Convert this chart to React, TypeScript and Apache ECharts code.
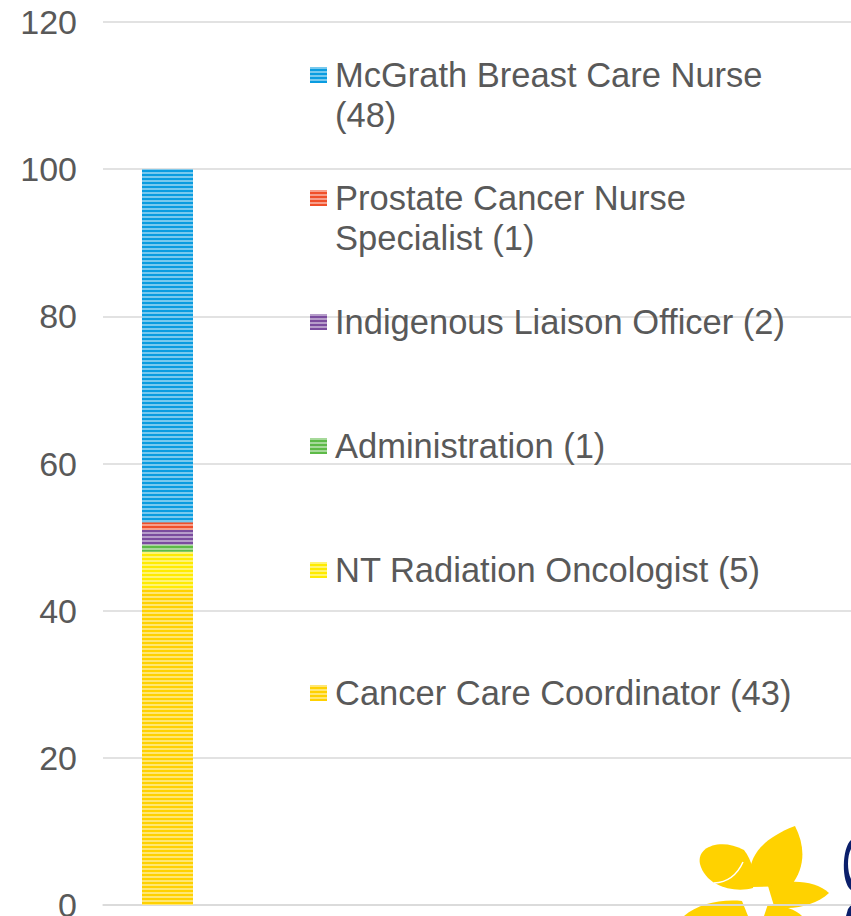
import React, { useEffect, useRef } from "react";
import * as echarts from "echarts";

const categories = ["Staff", "", " ", "  ", "   ", "    "];
const seriesNames = [
  "Cancer Care Coordinator",
  "NT Radiation Oncologist",
  "Administration",
  "Indigenous Liaison Officer",
  "Prostate Cancer Nurse Specialist",
  "McGrath Breast Care Nurse",
];
const seriesValues = [43, 5, 1, 2, 1, 48];
const legendLines = [
  ["Cancer Care Coordinator (43)"],
  ["NT Radiation Oncologist (5)"],
  ["Administration (1)"],
  ["Indigenous Liaison Officer (2)"],
  ["Prostate Cancer Nurse", "Specialist (1)"],
  ["McGrath Breast Care Nurse", "(48)"],
];
const seriesColors = ["#FFD100", "#FFEB00", "#5DBA47", "#7A4C9E", "#F04F29", "#0A9CE0"];
const legendCenters = [693, 570, 446, 322, 198, 75];

const FONT = "'Liberation Sans', Arial, sans-serif";
const LINE_H = 40;
const FONT_SIZE = 34.5;

function registerShapes() {
  const shapes: Record<string, string> = {
    petalTop: "M752 887 C744 862 758 840 795 826 C805 846 806 866 791 886 Z",
    petalLeft: "M753 888 C735 893 706 887 700 864 C696 846 722 838 744 850 C752 860 756 876 753 888 Z",
    petalRight: "M768 886 C790 879 815 880 829 893 C815 906 790 911 774 906 Z",
    petalBL: "M684 916 C698 904 720 899 742 901 L748 916 Z",
    petalBR: "M768 904 C784 905 796 910 802 916 L764 916 Z",
    navyC: "M851 840 C842 848 841 882 851 890 L851 879 C847 871 847 856 851 849 Z",
    navyB: "M848 909 L851 905 L851 916 L846 916 Z",
  };
  Object.keys(shapes).forEach((k) => {
    try {
      echarts.graphic.registerShape(k, echarts.graphic.extendPath(shapes[k], {}) as any);
    } catch (e) {}
  });
}

export default function App() {
  const ref = useRef<HTMLDivElement>(null);
  useEffect(() => {
    if (!ref.current) return;
    registerShapes();
    const chart = echarts.init(ref.current, undefined, { renderer: "svg" });
    const decalFor = () => ({
      symbol: "rect",
      symbolSize: 1,
      dashArrayX: [10, 0],
      dashArrayY: [2, 2],
      rotation: 0,
      color: "rgba(255,255,255,0.45)",
    });
    const series = seriesNames.map((name, i) => ({
      name,
      type: "bar",
      stack: "total",
      barWidth: 51,
      data: categories.map((_, ci) => (ci === 0 ? seriesValues[i] : null)),
      itemStyle: { color: seriesColors[i], decal: decalFor() },
      emphasis: { disabled: true },
    }));
    const richT = { fontSize: FONT_SIZE, color: "#595959", fontFamily: FONT, lineHeight: LINE_H };
    const legends = seriesNames.map((name, i) => {
      const lines = legendLines[i];
      const extra = (lines.length - 1) * LINE_H;
      const boxH = lines.length * LINE_H + extra;
      return {
        show: true,
        data: [name],
        left: 310,
        top: legendCenters[i] - boxH / 2,
        padding: 0,
        orient: "vertical",
        icon: "rect",
        itemWidth: 17,
        itemHeight: 16,
        selectedMode: false,
        formatter: () => lines.map((l) => `{t|${l}}`).join("\n"),
        textStyle: {
          fontSize: FONT_SIZE,
          color: "#595959",
          fontFamily: FONT,
          lineHeight: LINE_H,
          padding: [extra, 0, 0, 3],
          rich: { t: richT },
        },
      };
    });
    const yellow = "#FFD200";
    const navy = "#0B1F6B";
    chart.setOption({
      animation: false,
      backgroundColor: "#ffffff",
      grid: {
        left: 103,
        top: 22,
        bottom: 11,
        width: 774,
        containLabel: false,
        outerBoundsMode: "none",
      },
      xAxis: {
        type: "category",
        data: categories,
        axisLine: { show: true, lineStyle: { color: "#D9D9D9", width: 1.5 } },
        axisTick: { show: false },
        axisLabel: { show: false },
      },
      yAxis: {
        type: "value",
        min: 0,
        max: 120,
        interval: 20,
        axisLine: { show: false },
        axisTick: { show: false },
        axisLabel: { fontSize: 34, color: "#595959", fontFamily: FONT, margin: 26 },
        splitLine: { lineStyle: { color: "#D9D9D9", width: 1.5 } },
      },
      legend: legends,
      series,
      graphic: [
        {
          type: "group",
          z: -5,
          silent: true,
          children: [
            { type: "petalTop", z: -5, style: { fill: yellow } },
            { type: "petalLeft", z: -5, style: { fill: yellow } },
            { type: "petalRight", z: -5, style: { fill: yellow } },
            { type: "petalBL", z: -5, style: { fill: yellow } },
            { type: "petalBR", z: -5, style: { fill: yellow } },
            {
              type: "bezierCurve",
              z: -4,
              shape: { x1: 714, y1: 883, x2: 743, y2: 862, cpx1: 734, cpy1: 882 },
              style: { stroke: "#ffffff", lineWidth: 1.5, fill: null },
            },
            {
              type: "polyline",
              z: -4,
              shape: { points: [[757, 908], [764, 902], [772, 905]] },
              style: { stroke: "#ffffff", lineWidth: 1.5, fill: null },
            },
            { type: "navyC", z: -5, style: { fill: navy } },
            { type: "navyB", z: -5, style: { fill: navy } },
          ],
        },
      ],
    });
    return () => chart.dispose();
  }, []);
  return <div ref={ref} style={{ width: 851, height: 916, position: "absolute", left: 0, top: 0 }} />;
}
